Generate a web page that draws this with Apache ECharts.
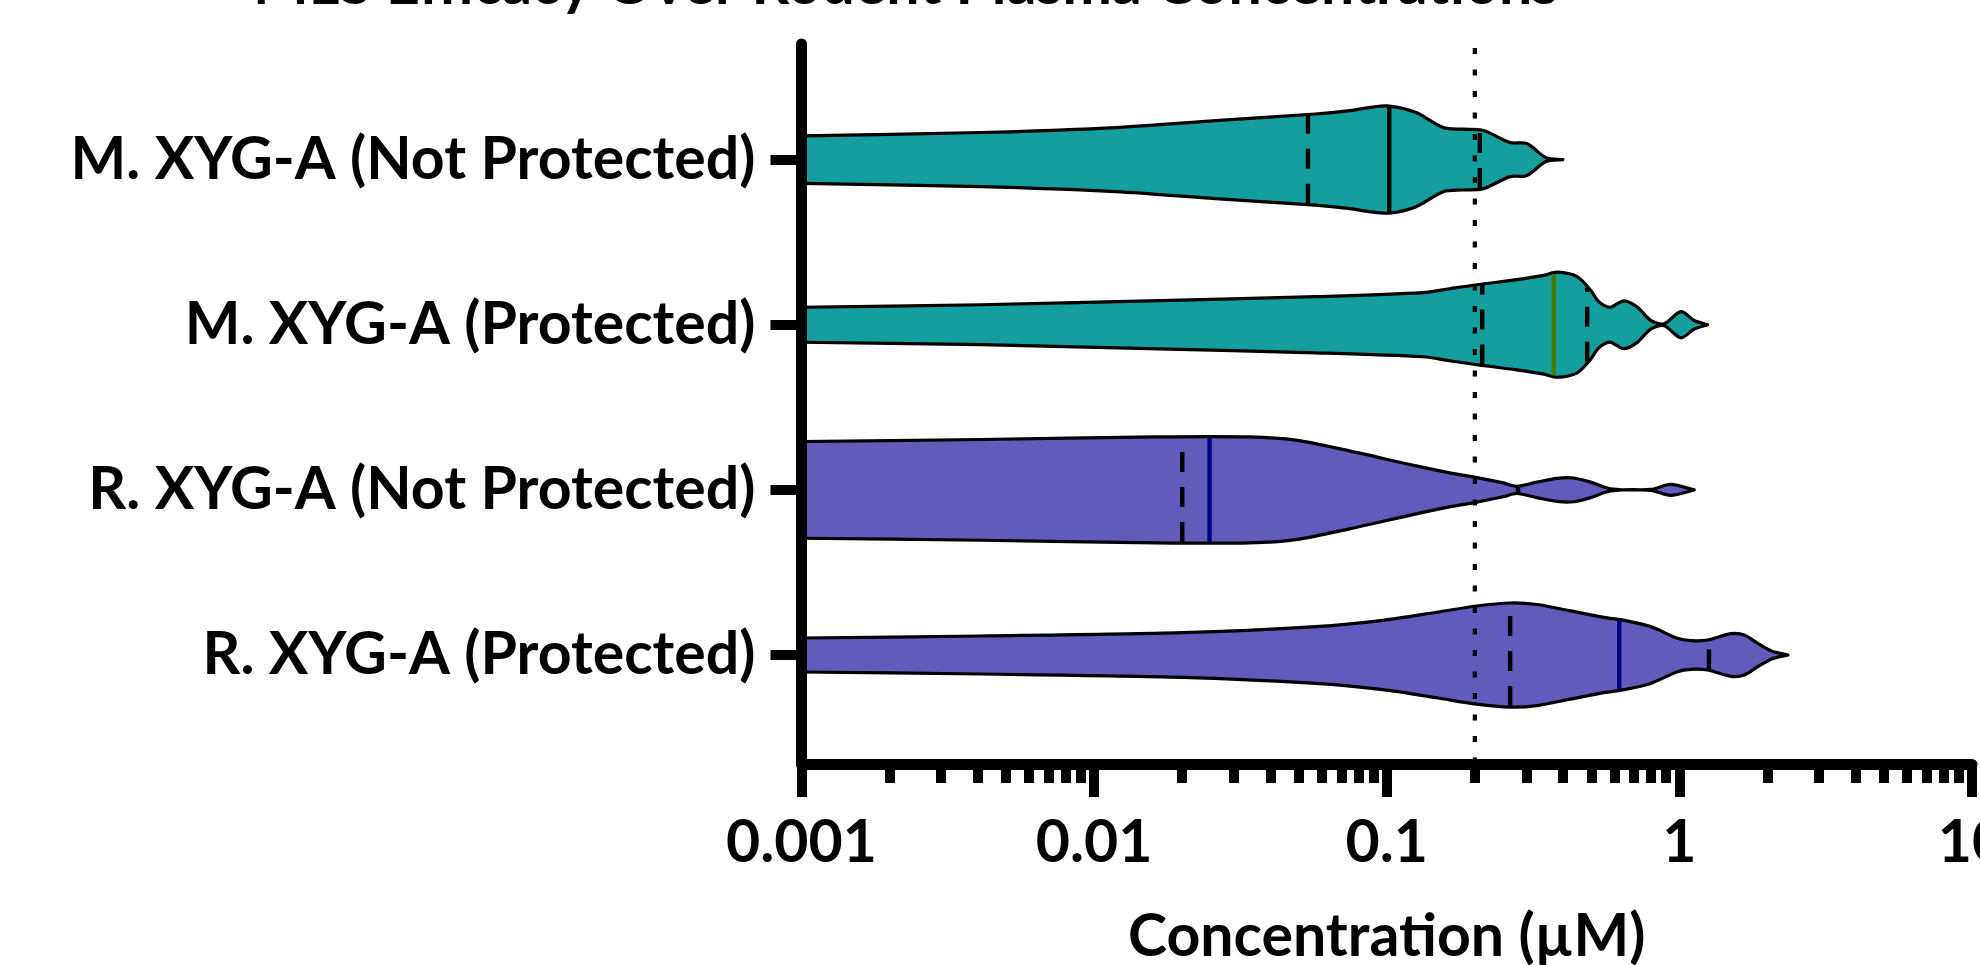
<!DOCTYPE html>
<html>
<head>
<meta charset="utf-8">
<script src="https://cdn.jsdelivr.net/npm/echarts@6/dist/echarts.min.js"></script>
<style>
html,body{margin:0;padding:0;background:#fff;}
#chart{width:1980px;height:965px;}
</style>
</head>
<body>
<div id="chart"></div>
<script>
// ---------------- data ----------------
const chartTitle = 'MLS Efficacy Over Rodent Plasma Concentrations';
const xAxisTitle = 'Concentration (µM)';
const categories = ['M. XYG-A (Not Protected)', 'M. XYG-A (Protected)', 'R. XYG-A (Not Protected)', 'R. XYG-A (Protected)'];
const rowPositions = [4, 3, 2, 1];
const xTickValues = [0.001, 0.01, 0.1, 1, 10];
const xTickLabels = ['0.001', '0.01', '0.1', '1', '10'];
const xMinorTickValues = [0.002,0.003,0.004,0.005,0.006,0.007,0.008,0.009,
  0.02,0.03,0.04,0.05,0.06,0.07,0.08,0.09,
  0.2,0.3,0.4,0.5,0.6,0.7,0.8,0.9,
  2,3,4,5,6,7,8,9];
const referenceConcentration = 0.2;

// violin outlines: [concentration, half-width in row units]
const profileMNotProtected = [[0.001,0.144],[0.0041,0.164],[0.0118,0.194],[0.026,0.236],[0.057,0.276],[0.075,0.297],[0.087,0.315],[0.102,0.324],[0.126,0.285],[0.156,0.194],[0.182,0.184],[0.214,0.176],[0.264,0.103],[0.301,0.097],[0.35,0.012],[0.40,0]];
const profileMProtected = [[0.001,0.106],[0.0041,0.121],[0.0154,0.145],[0.0573,0.170],[0.133,0.194],[0.164,0.218],[0.203,0.242],[0.278,0.273],[0.344,0.299],[0.382,0.318],[0.447,0.291],[0.497,0.210],[0.524,0.150],[0.552,0.117],[0.582,0.106],[0.647,0.145],[0.718,0.107],[0.798,0.026],[0.887,0.006],[1.012,0.079],[1.124,0.026],[1.249,0]];
const profileRNotProtected = [[0.001,0.293],[0.0041,0.305],[0.0162,0.321],[0.0339,0.321],[0.0489,0.301],[0.0746,0.236],[0.126,0.145],[0.164,0.103],[0.203,0.074],[0.250,0.042],[0.278,0.022],[0.326,0.047],[0.382,0.070],[0.435,0.072],[0.497,0.047],[0.582,0.007],[0.798,0.003],[0.933,0.033],[1.124,0]];
const profileRProtected = [[0.001,0.103],[0.0041,0.115],[0.0200,0.135],[0.0573,0.172],[0.097,0.210],[0.148,0.259],[0.203,0.297],[0.264,0.315],[0.326,0.306],[0.424,0.267],[0.552,0.228],[0.647,0.210],[0.798,0.172],[0.985,0.101],[1.094,0.087],[1.249,0.091],[1.501,0.129],[1.667,0.121],[1.853,0.071],[2.06,0.025],[2.35,0]];

const medians = [0.102, 0.372, 0.0248, 0.623];
const lowerQuartiles = [0.0538, 0.212, 0.0200, 0.264];
const upperQuartiles = [0.208, 0.484, 0.281, 1.262];

// ---------------- styles ----------------
const profiles = [profileMNotProtected, profileMProtected, profileRNotProtected, profileRProtected];
const fillColors = ['#159E9E', '#159E9E', '#625BBB', '#625BBB'];
const medianColors = ['#000000', '#477A00', '#000080', '#000080'];
const FONT = 'Lato';
const FS = 59;

function halfWidthAt(prof, x) {
  const lx = Math.log10(x);
  for (let k = 0; k < prof.length - 1; k++) {
    const a = Math.log10(prof[k][0]), b = Math.log10(prof[k + 1][0]);
    if (lx >= a && lx <= b) {
      const t = (lx - a) / (b - a);
      return prof[k][1] + t * (prof[k + 1][1] - prof[k][1]);
    }
  }
  return 0;
}

function violinItem(params, api) {
  const i = params.dataIndex;
  const prof = profiles[i];
  const yc = rowPositions[i];
  const top = prof.map(p => api.coord([p[0], yc + p[1]]));
  const bot = prof.slice().reverse().map(p => api.coord([p[0], yc - p[1]]));
  const t0 = top[0], b0 = bot[bot.length - 1];
  const pts = [[t0[0] - 40, t0[1]]].concat(top, bot, [[b0[0] - 40, b0[1]]]);
  const children = [{
    type: 'polygon',
    shape: { points: pts, smooth: 0.3 },
    style: { fill: fillColors[i], stroke: '#000', lineWidth: 3.2, lineJoin: 'round' }
  }];
  const lines = [
    { x: lowerQuartiles[i], dash: [20, 15], color: '#000' },
    { x: upperQuartiles[i], dash: [20, 15], color: '#000' },
    { x: medians[i], dash: null, color: medianColors[i] }
  ];
  lines.forEach(l => {
    const hw = halfWidthAt(prof, l.x);
    const p1 = api.coord([l.x, yc - hw]);
    const p2 = api.coord([l.x, yc + hw]);
    children.push({
      type: 'line',
      shape: { x1: p1[0], y1: p1[1] - 1, x2: p2[0], y2: p2[1] + 1 },
      style: { stroke: l.color, lineWidth: 4.4, lineDash: l.dash }
    });
  });
  return { type: 'group', children: children };
}

function refItem(params, api) {
  const x = api.value(0);
  const p1 = api.coord([x, 0.34]);
  const p2 = api.coord([x, 4.7]);
  return {
    type: 'line',
    shape: { x1: p2[0], y1: p2[1] + 4, x2: p1[0], y2: p1[1] },
    style: { stroke: '#000', lineWidth: 4.2, lineDash: [6, 15.5] }
  };
}

function xLabel(v) {
  for (let k = 0; k < xTickValues.length; k++) {
    if (Math.abs(Math.log10(v) - Math.log10(xTickValues[k])) < 1e-6) return xTickLabels[k];
  }
  return '';
}
function yLabel(v) {
  for (let k = 0; k < rowPositions.length; k++) {
    if (Math.abs(v - rowPositions[k]) < 1e-6) return categories[k];
  }
  return '';
}

const textBase = { fontFamily: FONT, fontWeight: 'bold', fontSize: FS, color: '#000' };

const chart = echarts.init(document.getElementById('chart'), null, { renderer: 'canvas' });
chart.setOption({
  animation: false,
  backgroundColor: '#fff',
  title: {
    text: chartTitle, left: 253, top: -45, padding: 0,
    textStyle: Object.assign({}, textBase)
  },
  grid: { left: 801.5, right: 8, top: 44, bottom: 201, containLabel: false, outerBoundsMode: 'none' },
  xAxis: [{
    type: 'log', logBase: 10, min: 0.001, max: 10, position: 'bottom', z: 10,
    axisLine: { show: true, onZero: false, lineStyle: { color: '#000', width: 11 } },
    axisTick: { show: true, length: 33, customValues: xTickValues, lineStyle: { color: '#000', width: 10 } },
    minorTick: { show: false },
    splitLine: { show: false },
    axisLabel: Object.assign({ show: true, margin: 49, customValues: xTickValues, formatter: xLabel, showMinLabel: true, showMaxLabel: true, hideOverlap: false }, textBase),
    name: xAxisTitle, nameLocation: 'middle', nameGap: 143,
    nameTextStyle: Object.assign({}, textBase)
  }, {
    type: 'log', logBase: 10, min: 0.001, max: 10, position: 'bottom', z: 10,
    axisLine: { show: false },
    axisTick: { show: true, length: 19, customValues: xMinorTickValues, lineStyle: { color: '#000', width: 10 } },
    axisLabel: { show: false },
    splitLine: { show: false }
  }],
  yAxis: {
    type: 'value', min: 0.34, max: 4.7, z: 10,
    axisLine: { show: true, onZero: false, lineStyle: { color: '#000', width: 11 } },
    axisTick: { show: true, length: 31, customValues: rowPositions, lineStyle: { color: '#000', width: 10 } },
    splitLine: { show: false },
    axisLabel: Object.assign({ show: true, margin: 46, customValues: rowPositions, formatter: yLabel, hideOverlap: false }, textBase)
  },
  series: [{
    type: 'custom', name: 'violins', xAxisIndex: 0, yAxisIndex: 0, clip: true, z: 2, silent: true,
    data: rowPositions.map((y, i) => [medians[i], y]),
    renderItem: violinItem
  }, {
    type: 'custom', name: 'reference', xAxisIndex: 0, yAxisIndex: 0, clip: false, z: 5, silent: true,
    data: [[referenceConcentration, 1]],
    renderItem: refItem
  }]
});
</script>
</body>
</html>
